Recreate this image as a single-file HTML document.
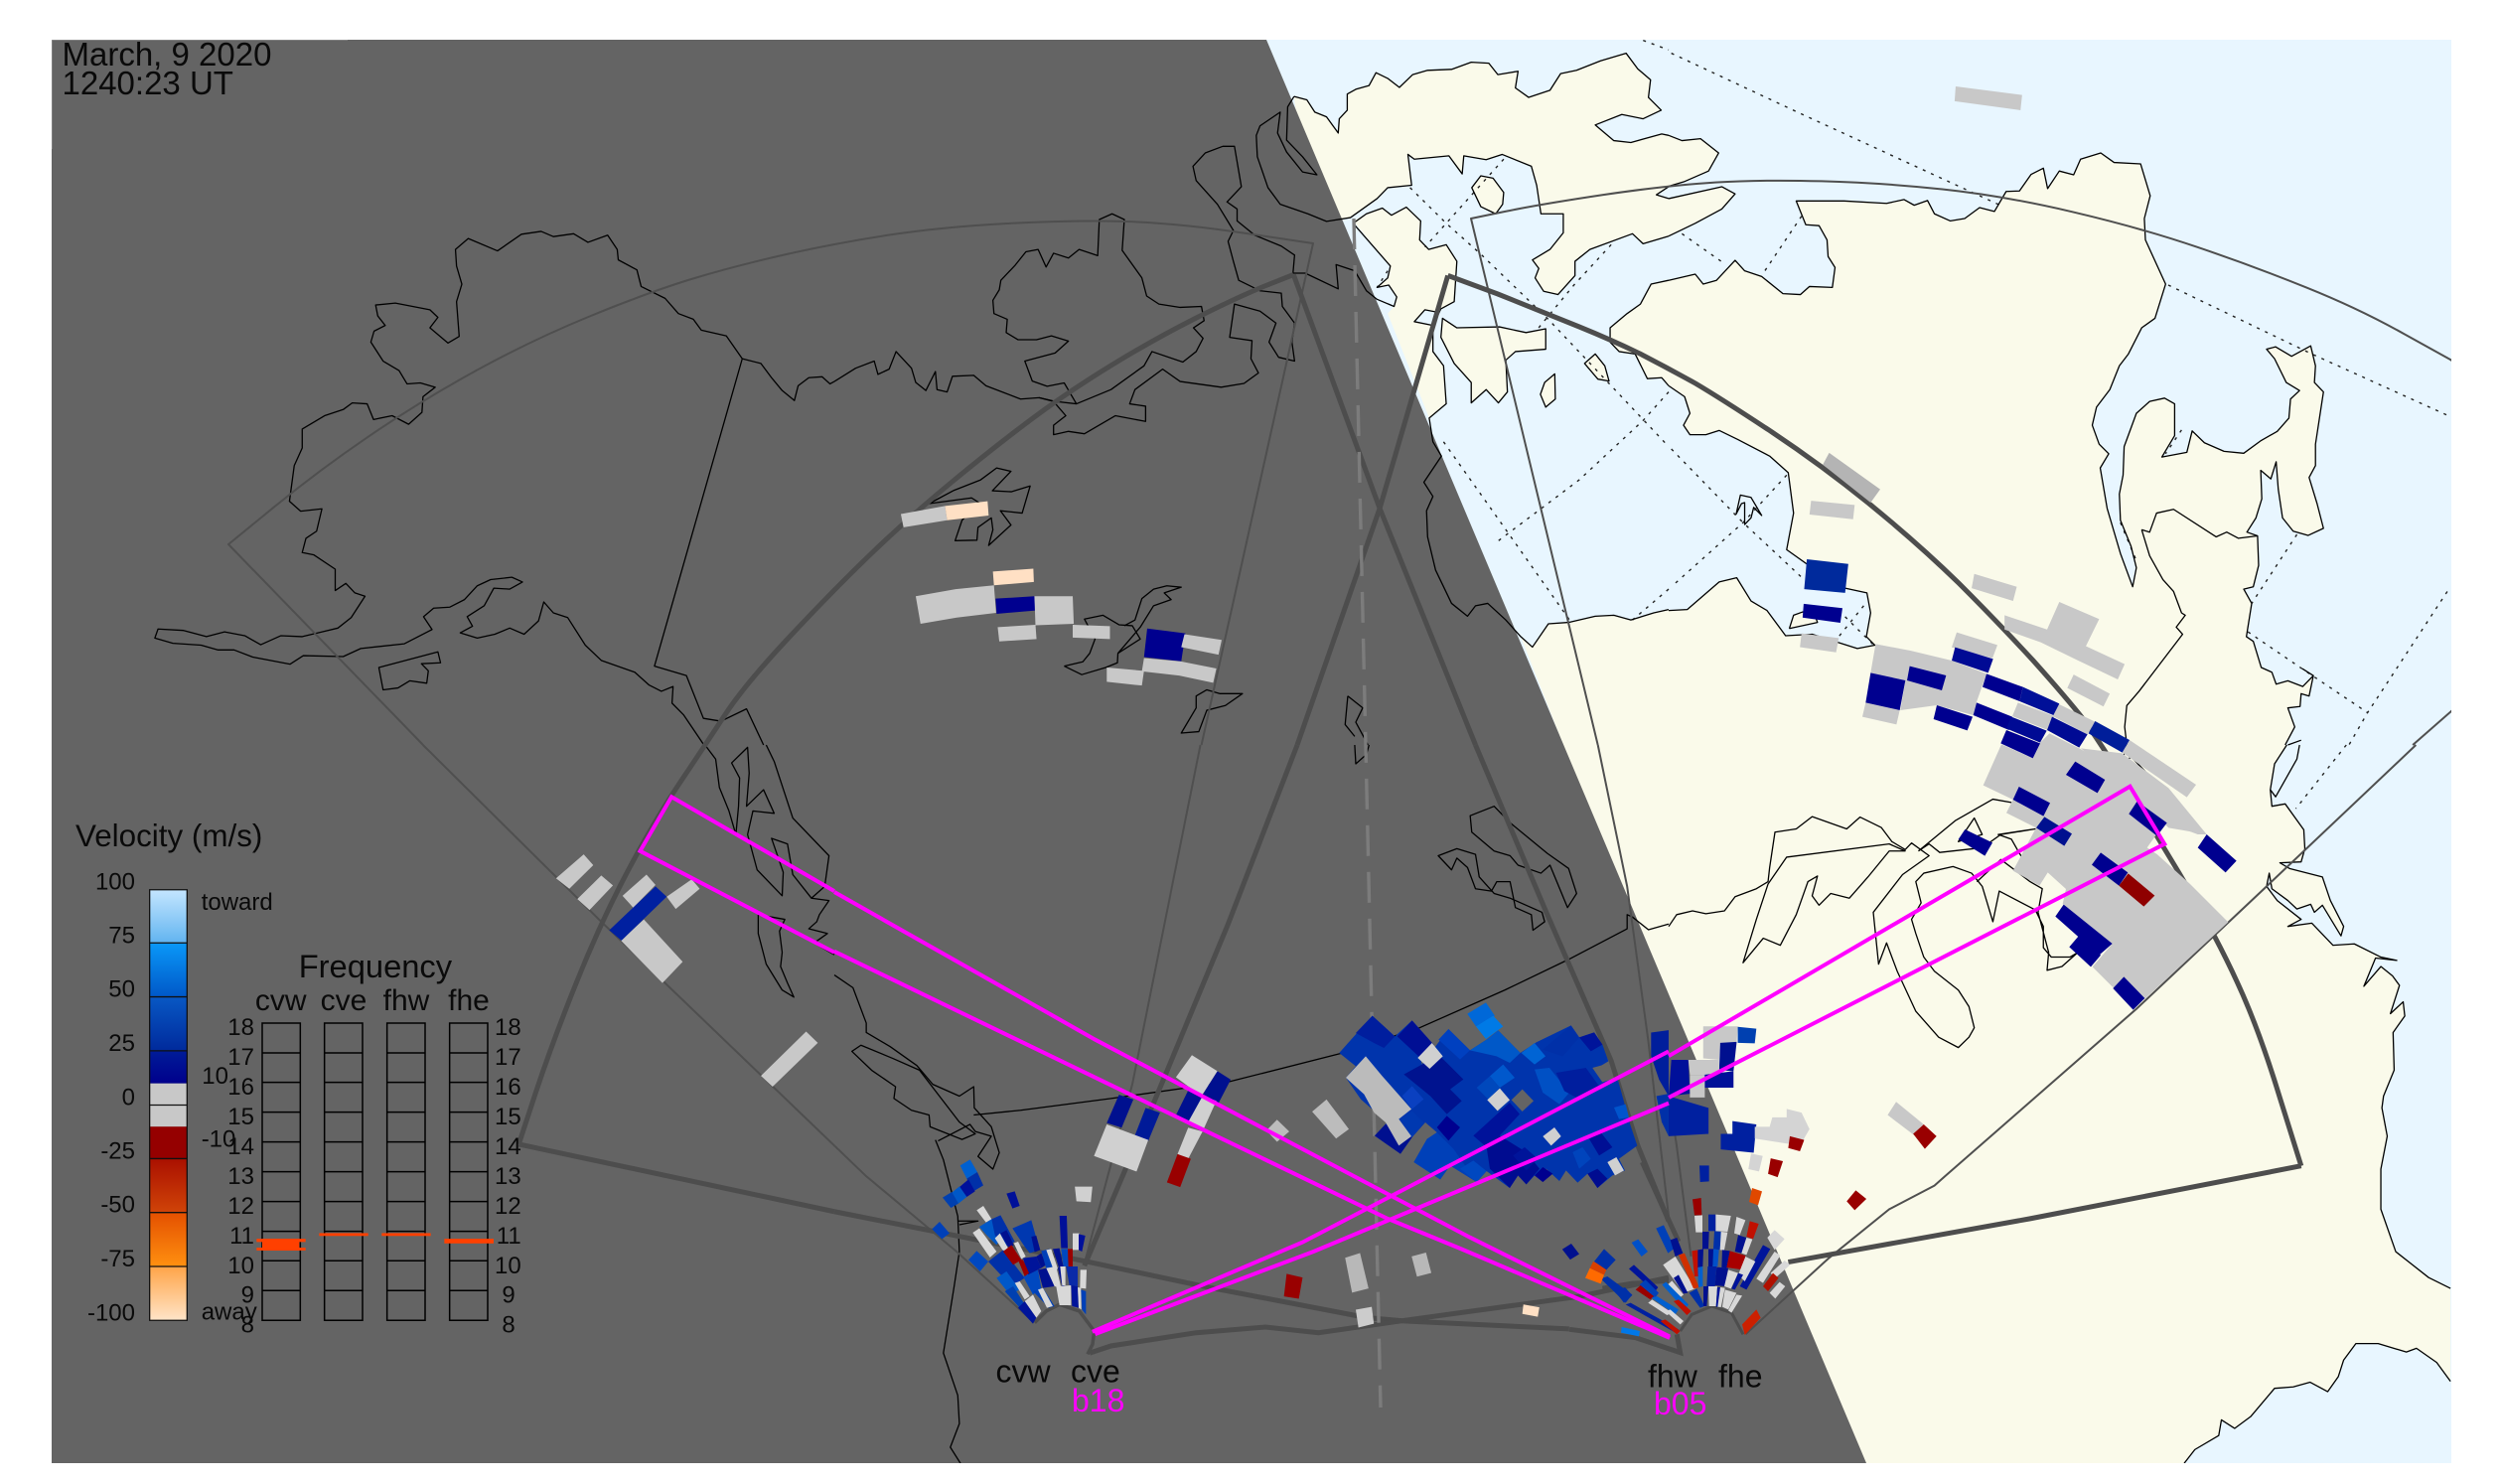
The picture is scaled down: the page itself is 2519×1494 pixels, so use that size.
<!DOCTYPE html>
<html><head><meta charset="utf-8"><title>SuperDARN velocity map</title>
<style>
html,body{margin:0;padding:0;background:#fff}
svg{display:block;font-family:"Liberation Sans",sans-serif}
polyline,polygon,path,line{vector-effect:non-scaling-stroke}
.c polyline,.c polygon{fill:none;stroke:#000;stroke-width:1.3;stroke-linejoin:round}
.d polyline{fill:none;stroke:#222;stroke-width:1.4;stroke-dasharray:3 6}
.t polyline,.t path{fill:none;stroke:#4f4f4f;stroke-width:2;stroke-linejoin:round}
.k polyline,.k path{fill:none;stroke:#4d4d4d;stroke-width:5;stroke-linejoin:miter}
.m polyline{fill:none;stroke:#f0f;stroke-width:4;stroke-linejoin:miter}
.l polygon{fill:#fafaea;stroke:none}
text{fill:#0a0a0a}
</style></head><body>
<svg width="2519" height="1494" viewBox="0 0 2519 1494" xmlns="http://www.w3.org/2000/svg">
<defs><clipPath id="p"><rect x="52" y="40" width="2416" height="1433"/></clipPath>
<linearGradient id="g1" x1="0" y1="0" x2="0" y2="1"><stop offset="0" stop-color="#c4e6ff"/><stop offset="1" stop-color="#62b4f0"/></linearGradient>
<linearGradient id="g2" x1="0" y1="0" x2="0" y2="1"><stop offset="0" stop-color="#0a98f8"/><stop offset="1" stop-color="#0058c8"/></linearGradient>
<linearGradient id="g3" x1="0" y1="0" x2="0" y2="1"><stop offset="0" stop-color="#0858c4"/><stop offset="1" stop-color="#002a9c"/></linearGradient>
<linearGradient id="g4" x1="0" y1="0" x2="0" y2="1"><stop offset="0" stop-color="#001c98"/><stop offset="1" stop-color="#00008c"/></linearGradient>
<linearGradient id="g5" x1="0" y1="0" x2="0" y2="1"><stop offset="0" stop-color="#aa1000"/><stop offset="1" stop-color="#d04408"/></linearGradient>
<linearGradient id="g6" x1="0" y1="0" x2="0" y2="1"><stop offset="0" stop-color="#e45000"/><stop offset="1" stop-color="#ff9010"/></linearGradient>
<linearGradient id="g7" x1="0" y1="0" x2="0" y2="1"><stop offset="0" stop-color="#ffa448"/><stop offset="1" stop-color="#ffe4c8"/></linearGradient>
</defs>
<rect width="2519" height="1494" fill="#fff"/>
<g clip-path="url(#p)">
<rect x="52" y="40" width="2416" height="1433" fill="#e8f6ff"/>
<!-- land -->
<g class="l">
<g transform="translate(840,0) scale(.5357,.4783)">
<polygon points="864,203 888,210 903,236 925,246 947,280 949,250 964,232 964,198 980,188 1005,180 1018,153 1040,165 1062,184 1087,157 1115,148 1160,146 1197,131 1230,133 1247,157 1285,150 1280,185 1305,205 1345,190 1365,155 1395,148 1440,128 1488,112 1510,145 1534,168 1530,205 1554,232 1520,250 1480,241 1430,263 1465,296 1497,300 1555,282 1568,285 1568,393 1545,410 1568,418 1568,497 1520,513 1500,492 1420,525 1392,550 1392,580 1360,620 1333,613 1317,585 1324,565 1312,547 1345,525 1370,490 1370,450 1328,450 1320,390 1310,350 1255,325 1225,336 1183,328 1180,366 1155,328 1090,335 1078,325 1085,390 1040,395 1020,418 970,458 925,466 890,450"/>
<polygon points="975,465 1000,450 1030,438 1047,453 1075,436 1102,465 1100,505 1117,525 1150,515 1170,550 1165,635 1140,650 1133,657 1110,652 1090,677 1125,685 1125,740 1145,770 1150,850 1118,880 1040,660 1052,645 1057,625 1042,600 1020,605 1040,585 1045,560"/>
<polygon points="1143,670 1170,690 1250,688 1300,700 1337,692 1337,735 1280,740 1262,758 1265,825 1248,848 1225,820 1197,848 1197,805 1165,765 1140,710"/>
<polygon points="1198,395 1215,370 1238,375 1258,405 1256,430 1243,450 1215,435"/>
<polygon points="1410,765 1430,745 1448,770 1456,802 1435,798"/>
<polygon points="1354,787 1355,840 1337,857 1327,830 1335,805"/>
<polygon points="1568,590 1535,598 1515,640 1490,660 1458,690 1458,720 1475,740 1505,745 1528,797 1555,795 1568,812"/>
<polygon points="1290,1340 1312,1362 1342,1313 1380,1310 1430,1297 1465,1295 1497,1305 1540,1290 1568,1283 1568,1568 1370,1568"/>
</g>
<g transform="translate(1680,0) scale(.5351,.4783)">
<polygon points="0,285 25,296 60,292 94,322 75,360 30,382 0,392"/>
<polygon points="0,418 100,393 125,408 100,440 50,470 0,497"/>
<polygon points="0,590 50,577 65,598 90,590 125,548 143,570 175,582 215,618 248,620 265,603 308,605 313,563 300,540 298,505 283,475 258,473 240,423 330,423 410,428 443,420 462,432 487,422 500,450 530,465 557,460 585,437 613,445 635,403 660,402 682,367 705,354 713,397 735,360 762,368 775,335 813,322 838,342 888,345 906,412 895,460 897,505 935,598 915,670 890,690 865,745 848,770 830,820 805,857 797,895 810,935 828,955 812,985 825,1070 850,1165 873,1235 880,1195 870,1150 850,1095 848,1040 855,1000 857,940 880,870 905,845 933,838 952,850 952,917 928,962 975,952 985,907 1008,932 1045,950 1082,954 1115,927 1145,908 1167,880 1170,840 1187,822 1162,805 1140,755 1125,735 1142,730 1172,750 1208,728 1217,770 1215,805 1232,825 1217,935 1217,980 1205,1005 1220,1060 1232,1112 1203,1127 1175,1118 1155,1090 1147,1030 1143,972 1133,1008 1114,990 1116,1050 1105,1090 1088,1120 1108,1128 1110,1190 1100,1235 1082,1240 1097,1270 1087,1340 1100,1350 1115,1405 1135,1415 1143,1440 1165,1433 1193,1445 1213,1422 1205,1465 1190,1460 1188,1487 1165,1490 1178,1530 1160,1568 0,1568 0,1285 35,1283 95,1225 128,1216 155,1265 185,1285 220,1338 270,1335 355,1365 388,1358 372,1340 380,1290 373,1248 320,1235 222,1157 235,1080 225,995 190,960 130,925 95,906 70,915 40,915 28,895 40,870 30,835 0,812"/>
<polygon points="227,1323 235,1295 252,1288 275,1295 280,1310"/>
</g>
<g transform="translate(1680,750) scale(.5351,.4745)">
<polygon points="0,0 1163,0 1140,40 1132,95 1135,130 1160,125 1195,180 1197,220 1190,248 1150,250 1168,262 1230,280 1245,330 1270,385 1265,405 1230,340 1215,355 1208,338 1182,348 1165,330 1135,305 1130,272 1125,300 1145,330 1190,370 1165,385 1210,378 1250,425 1290,422 1340,450 1370,457 1330,452 1308,512 1340,470 1362,490 1375,510 1358,570 1382,545 1385,575 1363,610 1365,690 1345,745 1342,770 1352,830 1340,900 1340,985 1368,1075 1430,1130 1471,1153 1471,1350 1445,1310 1407,1280 1388,1288 1335,1270 1293,1270 1270,1305 1260,1340 1240,1372 1207,1352 1175,1362 1140,1365 1095,1425 1065,1450 1040,1432 1035,1465 990,1495 970,1524 0,1524"/>
</g>
<polygon points="1500,750 1680,750 1680,1473 1500,1473"/>
</g>
<!-- graticule -->
<g class="d">
<g transform="translate(840,0) scale(.5357,.4783)">
<polyline points="1082,395 1150,470 1215,535 1340,670 1450,800 1568,940"/>
<polyline points="1258,335 1190,420 1110,520"/>
<polyline points="1460,515 1390,600 1320,695"/>
<polyline points="1040,570 1020,605"/>
<polyline points="1568,825 1520,885 1400,1010 1240,1145"/>
<polyline points="1145,930 1240,1080 1385,1310"/>
<polyline points="1568,1240 1500,1305"/>
<polyline points="1520,85 1568,105"/>
</g>
<g transform="translate(1680,0) scale(.5351,.4783)">
<polyline points="5,112 250,240 620,430"/>
<polyline points="25,492 105,555"/>
<polyline points="250,455 175,580"/>
<polyline points="940,600 1210,745 1471,877"/>
<polyline points="5,945 140,1100 250,1215"/>
<polyline points="320,1285 388,1360"/>
<polyline points="222,1000 140,1100 10,1230"/>
<polyline points="367,1275 320,1340"/>
<polyline points="1182,1125 1097,1270"/>
<polyline points="1090,1330 1195,1410 1315,1500"/>
<polyline points="1465,1245 1315,1500 1280,1568"/>
<polyline points="965,905 935,955"/>
<polyline points="850,1100 880,1180"/>
</g>
<g transform="translate(1680,750) scale(.5351,.4745)"><polyline points="1275,0 1180,135"/></g>
</g>
<!-- night -->
<polygon points="52,40 1275,40 1879,1473 52,1473" fill="#646464"/>
<line x1="52" y1="40" x2="350" y2="40" stroke="#9a9a9a" stroke-width="1"/>
<line x1="52" y1="40" x2="52" y2="150" stroke="#9a9a9a" stroke-width="1"/>
<!-- coast -->
<g class="c">
<g transform="scale(.5357,.4783)">
<polyline points="1395,755 1365,707 1318,695 1303,672 1275,660 1250,628 1205,603 1197,568 1162,547 1160,525 1142,495 1105,510 1078,492 1040,498 1017,487 980,493 935,528 880,502 856,525 858,560 868,598 858,635 863,708 842,722 808,690 823,668 808,652 743,638 706,642 710,665 724,685 703,697 697,720 720,760 750,780 765,808 790,806 818,815 795,835 793,868 768,893 737,875 702,883 690,850 662,848 645,862 610,875 568,903 568,943 553,980 544,1055 565,1076 605,1071 595,1118 575,1133 568,1163 590,1168 630,1198 630,1243 650,1228 667,1248 686,1255 660,1300 635,1322 568,1340 528,1338 490,1357 460,1338 422,1330 388,1340 345,1327 297,1324 291,1343 325,1354 378,1358 410,1368 440,1368 475,1383 545,1398 570,1380 645,1382 678,1365 760,1355 812,1325 796,1298 815,1280 845,1278 873,1262 897,1233 922,1220 962,1215 982,1225 958,1240 928,1238 910,1275 878,1298 888,1318 865,1332 897,1343 930,1335 958,1322 985,1335 1012,1307 1022,1267 1040,1290 1067,1300 1100,1358 1130,1390 1193,1415 1220,1442 1243,1455 1265,1445 1263,1480 1285,1505 1323,1568"/>
<polyline points="1395,755 1230,1402 1290,1422 1322,1512 1355,1518 1403,1492 1435,1568"/>
<polyline points="1395,755 1430,765 1450,795 1470,822 1493,843 1500,812 1520,795 1545,793 1560,808 1568,803"/>
<polygon points="712,1405 823,1372 828,1395 792,1397 805,1412 802,1438 770,1433 748,1448 720,1452"/>
</g>
<g transform="translate(840,0) scale(.5357,.4783)">
<polyline points="0,803 40,775 75,760 82,788 103,777 116,740 145,775 153,805 172,822 190,782 193,820 212,825 222,792 262,790 285,812 350,840 385,837 412,845 435,875 412,895 412,915 440,908 470,913 528,875 585,887 585,855 555,850 565,820 617,777 650,803 727,815 770,807 797,785 783,755 785,717 743,710 752,640 800,655 830,680 817,720 835,752 865,760 860,720 865,680 842,645 840,617 800,612 760,590 750,550 740,508 750,485 720,430 680,380 674,350 697,322 730,308 752,308 765,393 738,425 757,440 757,465 790,495 840,518 865,537 862,575 885,575 947,608 943,557 978,570 1000,612 1020,630 1052,645 1057,625 1042,600 1020,605 1040,585 1045,560 975,470"/>
<polyline points="385,837 415,845 455,850 520,820 582,770 597,740 655,762 680,740 693,712 675,690 695,675 690,645 650,647 610,640 587,623 578,585 541,527 545,462 522,450 498,462 495,538 460,525 440,543 412,533 398,562 383,525 360,530 340,558 313,590 310,610 298,632 300,660 325,672 323,700 345,715 380,715 408,707 440,718 415,743 358,760 372,802 400,813 432,806 455,850"/>
<polygon points="178,1060 225,1032 275,1010 305,985 332,992 297,1033 333,1035 368,1023 353,1080 312,1075 332,1105 290,1148 298,1115 295,1090 270,1110 268,1137 227,1138 240,1095 272,1058 258,1048"/>
<polyline points="432,1402 465,1420 510,1405 532,1395 533,1375 575,1345 560,1317 535,1315 505,1295 470,1303 490,1345 480,1375 467,1393 432,1402"/>
<polyline points="545,1317 565,1305 578,1260 600,1240 625,1233 652,1236 620,1248 633,1262 600,1275 575,1320 533,1375"/>
<polygon points="680,1465 700,1452 725,1460 767,1460 735,1485 700,1495 685,1540 652,1543 680,1490"/>
<polyline points="965,1465 993,1490 980,1520 1003,1568"/>
<polyline points="965,1465 960,1525 978,1550"/>
<polyline points="864,203 888,210 903,236 925,246 947,280 949,250 964,232 964,198 980,188 1005,180 1018,153 1040,165 1062,184 1087,157 1115,148 1160,146 1197,131 1230,133 1247,157 1285,150 1280,185 1305,205 1345,190 1365,155 1395,148 1440,128 1488,112 1510,145 1534,168 1530,205 1554,232 1520,250 1480,241 1430,263 1465,296 1497,300 1555,282 1568,285"/>
<polyline points="864,203 852,225 850,295 880,330 907,368 880,362 850,320 833,280 838,236 800,265 793,285 795,330 815,395 838,430 890,450 925,466 970,458 1020,418 1040,395 1085,390 1078,325 1090,335 1155,328 1180,366 1183,328 1225,336 1255,325 1310,350 1320,390 1328,450 1370,450 1370,490 1345,525 1312,547 1324,565 1317,585 1333,613 1360,620 1392,580 1392,550 1420,525 1500,492 1520,513 1568,497"/>
<polyline points="1568,393 1545,410 1568,418"/>
<polyline points="975,470 1000,450 1030,438 1047,453 1075,436 1102,465 1100,505 1117,525 1150,515 1170,550 1165,635 1140,650 1125,685 1090,677 1110,652 1133,657"/>
<polyline points="1125,685 1125,740 1145,770 1150,850 1118,880 1125,930 1141,960 1108,1015 1125,1045 1113,1075 1115,1130 1130,1200 1160,1270 1190,1297 1205,1275 1228,1270 1262,1305 1290,1340 1312,1362 1342,1313 1380,1310 1430,1297 1465,1295 1497,1305 1540,1290 1568,1283"/>
<polygon points="1143,670 1170,690 1250,688 1300,700 1337,692 1337,735 1280,740 1262,758 1265,825 1248,848 1225,820 1197,848 1197,805 1165,765 1140,710"/>
<polygon points="1198,395 1215,370 1238,375 1258,405 1256,430 1243,450 1215,435"/>
<polygon points="1410,765 1430,745 1448,770 1456,802 1435,798"/>
<polygon points="1354,787 1355,840 1337,857 1327,830 1335,805"/>
<polyline points="1568,590 1535,598 1515,640 1490,660 1458,690 1458,720 1475,740 1505,745 1528,797 1555,795 1568,812"/>
</g>
<g transform="translate(1680,0) scale(.5351,.4783)">
<polyline points="0,285 25,296 60,292 94,322 75,360 30,382 0,392"/>
<polyline points="0,418 100,393 125,408 100,440 50,470 0,497"/>
<polyline points="0,590 50,577 65,598 90,590 125,548 143,570 175,582 215,618 248,620 265,603 308,605 313,563 300,540 298,505 283,475 258,473 240,423 330,423 410,428 443,420 462,432 487,422 500,450 530,465 557,460 585,437 613,445 635,403 660,402 682,367 705,354 713,397 735,360 762,368 775,335 813,322 838,342 888,345 906,412 895,460 897,505 935,598 915,670 890,690 865,745 848,770 830,820 805,857 797,895 810,935 828,955 812,985 825,1070 850,1165 873,1235 880,1195 870,1150 850,1095 848,1040 855,1000 857,940 880,870 905,845 933,838 952,850 952,917 928,962 975,952 985,907 1008,932 1045,950 1082,954 1115,927 1145,908 1167,880 1170,840 1187,822 1162,805 1140,755 1125,735 1142,730 1172,750 1208,728 1217,770 1215,805 1232,825 1217,935 1217,980 1205,1005 1220,1060 1232,1112 1203,1127 1175,1118 1155,1090 1147,1030 1143,972 1133,1008 1114,990 1116,1050 1105,1090 1088,1120 1108,1128 1110,1190 1100,1235 1082,1240 1097,1270 1087,1340 1100,1350 1115,1405 1135,1415 1143,1440 1165,1433 1193,1445 1213,1422 1193,1408 1213,1422 1205,1465 1190,1460 1188,1487 1165,1490 1178,1530 1160,1568"/>
<polyline points="1165,1568 1190,1558"/>
<polyline points="0,1285 35,1283 95,1225 128,1216 155,1265 185,1285 220,1338 270,1335 355,1365 388,1358 372,1340 380,1290 373,1248 320,1235 222,1157 235,1080 225,995 190,960 130,925 95,906 70,915 40,915 28,895 40,870 30,835 0,812"/>
<polyline points="227,1323 235,1295 252,1288 275,1295 280,1310 227,1323"/>
<polygon points="127,1082 135,1042 155,1047 175,1085 160,1068 155,1090 143,1104 143,1058 137,1060"/>
<polyline points="890,1115 905,1120 918,1080 950,1072 1030,1130 1050,1120 1072,1133 1108,1128"/>
<polyline points="890,1115 905,1170 930,1220 950,1245 965,1290 972,1295 955,1320 967,1335 885,1455 862,1485 858,1530 862,1568"/>
</g>
<g transform="translate(0,750) scale(.5357,.4745)">
<polyline points="1325,0 1345,30 1352,90 1370,140 1383,190 1388,130 1390,70 1375,38 1405,5 1408,60 1403,130 1435,95 1455,145 1415,140 1405,190 1423,265 1470,320 1472,270 1450,198 1480,210 1490,275 1525,325 1550,300 1558,235 1490,155 1455,35 1440,0"/>
<polyline points="1425,360 1475,370 1465,395 1470,440 1467,470 1480,505 1492,535 1470,520 1440,465 1425,400 1425,360"/>
<polyline points="1525,325 1558,330 1540,360 1535,375 1520,390 1555,400 1530,420 1568,445"/>
</g>
<g transform="translate(840,750) scale(.5357,.4745)">
<polyline points="0,488 35,515 60,590 60,610 105,640 155,680 185,720 235,745 262,725 263,770 295,810 310,865 298,900 270,873 295,830 265,820 255,805 195,840"/>
<polygon points="33,650 50,637 110,665 160,690 235,800 265,825 240,837 180,810 178,785 145,775 112,750 115,725 70,690"/>
<polyline points="190,838 205,880 232,1000 235,1075 225,1150 205,1290 232,1380 235,1440 218,1490 237,1524"/>
<polyline points="232,1010 270,1010 235,1018"/>
<polyline points="262,785 350,775 520,750 740,715 950,655 1100,600 1260,520 1380,455 1490,390 1490,360 1500,365 1530,392 1568,380"/>
<polyline points="978,0 980,40 1000,20 1005,0"/>
<polygon points="1195,150 1240,130 1270,165 1340,230 1380,262 1395,315 1378,345 1345,255 1328,272 1285,255 1270,235 1240,225 1198,185"/>
<polygon points="1135,235 1170,220 1205,232 1212,280 1240,315 1270,325 1330,355 1335,375 1313,393 1310,360 1280,345 1270,290 1245,290 1235,310 1205,305 1190,260 1170,240 1160,265"/>
</g>
<g transform="translate(1680,750) scale(.5351,.4745)">
<polyline points="0,385 15,360 45,352 70,358 105,352 125,322 165,305 187,290 190,260 200,185 240,178 270,152 335,178 360,153 400,175 420,205 445,222 457,208 490,235 440,275 385,355 395,465 410,420 430,480 465,565 508,620 545,642 565,620 575,600 565,555 545,520 500,480 480,450 465,400 457,370 475,335 465,290 480,272 535,258 570,272 590,300 610,375 622,310 690,350 705,385 705,430 720,450 755,450 770,440 740,470 712,478 715,440 695,355 703,305 680,290 625,243 580,290"/>
<polygon points="222,238 415,210 445,225 415,225 375,280 340,325 305,315 283,340 270,320 280,278 262,290 240,360 210,425 178,410 140,462 165,370 187,295"/>
<polyline points="470,225 490,210 510,228 590,218 625,190 690,178 620,190 645,200 660,230 695,290"/>
<polyline points="470,225 540,160 610,115 645,122"/>
<polygon points="545,205 575,155 590,190"/>
<polyline points="862,0 850,45 870,25 900,60 890,100"/>
<polyline points="1163,0 1140,40 1132,95 1135,130 1160,125 1195,180 1197,220 1190,248 1150,250 1168,262 1230,280 1245,330 1270,385 1265,405 1230,340 1215,355 1208,338 1182,348 1165,330 1135,305 1130,272 1125,300 1145,330 1190,370 1165,385 1210,378 1250,425 1290,422 1340,450 1370,457 1330,452 1308,512 1340,470 1362,490 1375,510 1358,570 1382,545 1385,575 1363,610 1365,690 1345,745 1342,770 1352,830 1340,900 1340,985 1368,1075 1430,1130 1471,1153"/>
<polyline points="1187,0 1182,30 1142,110 1132,95"/>
<polyline points="1471,1350 1445,1310 1407,1280 1388,1288 1335,1270 1293,1270 1270,1305 1260,1340 1240,1372 1207,1352 1175,1362 1140,1365 1095,1425 1065,1450 1040,1432 1035,1465 990,1495 970,1524"/>
</g>
</g>
<!-- thin field of view lines -->
<g class="t">
<path d="M426,750 L230,548 L275.5,510.8 Q321,473.5 372,438.8 Q423,404 479.5,373 Q536,342 594.8,318 Q653.5,294 696,281 Q739,268 789.5,256.5 Q840,245 893.5,236.8 Q947,228.6 1014,225 Q1081,221.5 1134.5,223 Q1188,224.8 1255,235 L1322,245 L1209.6,750"/>
<path d="M1608.7,750 L1481,220 L1515.5,212.9 Q1550,205.7 1615,196 Q1680,186.5 1727,183.6 Q1773.6,180.8 1834,182.4 Q1894,184 1955.5,190.5 Q2017,197 2086.5,213.3 Q2156,229.6 2212,248.7 Q2268.6,267.8 2322,289.4 Q2375.6,310.9 2421,336.5 L2467,362 L2515,395"/>
<g transform="translate(1680,0) scale(.5351,.4783)"><polyline points="1500,1470 1400,1568"/></g>
<g transform="translate(0,750) scale(.5357,.4745)"><polyline points="795,0 1130,375 1568,850"/></g>
<g transform="translate(840,750) scale(.5357,.4745)"><polyline points="0,850 60,915 230,1075 375,1225"/><polyline points="688,0 560,720 470,1100"/><polyline points="1435,0 1490,300 1530,630 1568,1000"/></g>
<g transform="translate(1680,750) scale(.5351,.4745)"><polyline points="0,740 15,850 42,1085"/><polyline points="1406,0 1125,300 880,560 520,915 500,935 415,985 300,1090 145,1250"/></g>
</g>
<!-- thick field of view lines -->
<g class="k">
<path d="M522.3,1151.9 L539.5,1099.5 Q557,1047 581,987.5 Q605,928 632,877 Q659,826 684.5,788 Q710,750 730,719.5 Q750,689 795,641 Q840,593 877.5,557 Q915,521 958,485.5 Q1001,450 1038.5,422 Q1076,394 1118.5,368 Q1161,342 1201.5,321.5 Q1242,301 1272,288.5 L1302.3,276.5"/>
<path d="M1457.7,277.4 L1508,296 Q1558,316 1590,329 Q1622,342 1651,356 Q1680,371 1707,386 Q1734,402 1784,435 Q1835,469 1883,508 Q1932,548 1972,587 Q2012,627 2047,665 Q2081,703 2099,726 Q2116,750 2136,783 Q2156,816 2194,879 Q2231,942 2252,988 Q2274,1035 2295,1104 L2316.8,1173.7"/>
<g transform="translate(0,750) scale(.5357,.4745)"><polyline points="975,847 1568,990"/></g>
<g transform="translate(840,0) scale(.5357,.4783)"><polyline points="863,578 1025,1070 1205,1568"/><polyline points="870,1568 1025,1070 1153,580"/></g>
<g transform="translate(1680,750) scale(.5351,.4745)"><polyline points="1190,893 680,1005 225,1097"/></g>
<g transform="translate(840,750) scale(.5357,.4745)"><polyline points="1205,0 1340,360 1460,670 1510,850 1568,1010"/><polyline points="870,0 740,380 600,760 470,1105"/><polyline points="0,990 470,1095 700,1150 1000,1215 1071,1222 1381,1239"/><polyline points="480,1290 520,1275 680,1247 810,1235 910,1247 1090,1218 1400,1170 1568,1130"/></g>
<g transform="translate(1580,1170) scale(.3333)"><polyline points="0,505 200,530 335,575 325,520"/><polyline points="100,380 190,365 300,360" style="stroke-width:4"/><polyline points="220,0 330,240"/></g>
<g transform="translate(930,1140) scale(.3333)"><polyline points="335,575 370,540 410,520 470,540 515,600 510,640 495,670" style="stroke-width:3.5"/></g>
<g transform="translate(1580,1170) scale(.3333)"><polyline points="335,510 370,460 430,435 490,455 525,520" style="stroke-width:3"/></g>
</g>
<!-- dashed meridian -->
<polyline points="1363,220 1390,1417" fill="none" stroke="#7c7c7c" stroke-width="3.4" stroke-dasharray="31 16"/>
<!-- cells: upper -->
<g transform="translate(840,0) scale(.5357,.4783)">
<polygon fill="#c8c8c8" points="125,1082 208,1065 212,1095 130,1110"/>
<polygon fill="#ffe0c4" points="208,1065 288,1055 290,1085 212,1095"/>
<polygon fill="#ffe0c4" points="298,1203 374,1197 375,1225 300,1232"/>
<polygon fill="#c8c8c8" points="153,1255 228,1240 300,1232 304,1290 230,1300 162,1313"/>
<polygon fill="#00008f" points="303,1260 376,1255 378,1285 305,1292"/>
<polygon fill="#c8c8c8" points="376,1255 448,1255 450,1313 378,1316"/>
<polygon fill="#c8c8c8" points="307,1320 378,1315 380,1345 310,1350"/>
<polygon fill="#c8c8c8" points="448,1315 518,1318 518,1345 448,1342"/>
<polygon fill="#00008f" points="588,1323 660,1333 652,1392 582,1383"/>
<polygon fill="#c8c8c8" points="658,1335 728,1347 722,1378 652,1362"/>
<polygon fill="#c8c8c8" points="582,1385 650,1392 718,1407 712,1437 648,1422 578,1413"/>
<polygon fill="#c8c8c8" points="512,1405 582,1412 578,1443 512,1435"/>
</g>
<g transform="translate(1680,0) scale(.5351,.4783)">
<polygon fill="#c8c8c8" points="540,182 665,200 662,232 538,213"/>
<polygon fill="#b4b4b4" points="302,953 398,1030 380,1058 290,978"/>
<polygon fill="#c8c8c8" points="268,1054 350,1063 347,1093 265,1083"/>
<polygon fill="#002a9c" points="260,1177 338,1187 332,1248 255,1240"/>
<polygon fill="#00008f" points="254,1271 327,1280 323,1311 252,1300"/>
<polygon fill="#c8c8c8" points="250,1333 320,1343 315,1373 247,1362"/>
<polygon fill="#c8c8c8" points="575,1208 655,1235 648,1265 570,1238"/>
<polygon fill="#c8c8c8" points="632,1295 712,1325 735,1267 810,1303 785,1360 858,1398 845,1430 770,1390 700,1352 632,1325"/>
<polygon fill="#c8c8c8" points="762,1420 830,1460 818,1487 750,1448"/>
</g>
<g transform="translate(1850,620) scale(.33333)">
<polygon fill="#c8c8c8" points="115,85 220,105 345,135 450,175 420,260 410,300 300,270 190,285 205,195 100,172"/>
<polygon fill="#c8c8c8" points="85,262 75,305 178,328 188,285"/>
<polygon fill="#c8c8c8" points="360,50 483,88 468,128 345,95"/>
<polygon fill="#c8c8c8" points="495,388 440,512 530,555 510,595 600,640 530,770 610,815 635,775 690,825 680,870 830,990 770,1060 830,1120 925,1160 1180,925 1065,810 965,720 935,700 960,665 995,625 1088,660 1115,660 1000,560 860,470 730,400 640,355 610,385 590,430"/>
<polygon fill="#c8c8c8" points="545,262 655,303 635,345 528,303"/>
<polygon fill="#c8c8c8" points="665,265 778,320 755,358 650,303"/>
<polygon fill="#c8c8c8" points="882,375 1083,510 1055,548 860,413"/>
<polygon fill="#c8c8c8" points="735,400 860,415 1000,520 1115,660 1000,640 880,520"/>
<polygon fill="#00008f" points="100,172 205,195 188,285 85,262"/>
<polygon fill="#00008f" points="218,152 328,180 315,225 210,195"/>
<polygon fill="#000a94" points="355,95 470,130 455,172 345,135"/>
<polygon fill="#00008f" points="300,270 408,305 392,346 290,312"/>
<polygon fill="#00008f" points="450,175 560,215 550,258 438,215"/>
<polygon fill="#001098" points="560,215 670,265 652,300 550,258"/>
<polygon fill="#00008f" points="420,262 528,305 518,345 410,300"/>
<polygon fill="#000a94" points="525,305 632,347 612,383 510,340"/>
<polygon fill="#00008f" points="510,345 612,385 590,430 493,385"/>
<polygon fill="#000a94" points="648,305 755,358 730,398 633,345"/>
<polygon fill="#001e9a" points="778,318 882,375 860,413 758,355"/>
<polygon fill="#00008f" points="718,440 808,495 785,535 690,480"/>
<polygon fill="#00008f" points="548,516 642,565 622,605 530,555"/>
<polygon fill="#00108f" points="625,607 708,658 685,695 600,640"/>
<polygon fill="#00008f" points="385,645 468,685 445,725 365,675"/>
<polygon fill="#00008f" points="795,715 877,775 850,815 768,752"/>
<polygon fill="#8f0000" points="878,778 958,845 925,878 850,815"/>
<polygon fill="#00008f" points="905,560 995,625 965,665 880,598"/>
<polygon fill="#00008f" points="1115,660 1205,740 1172,775 1088,700"/>
<polygon fill="#00008f" points="683,872 830,990 790,1025 658,908"/>
<polygon fill="#00008f" points="730,965 795,1025 765,1060 700,1000"/>
<polygon fill="#00008f" points="865,1090 928,1155 893,1190 832,1125"/>
</g>
<!-- west cells -->
<g transform="translate(0,750) scale(.5357,.4745)">
<polygon fill="#c8c8c8" points="1097,232 1115,255 1070,305 1045,283"/>
<polygon fill="#c8c8c8" points="1130,277 1152,298 1108,350 1085,327"/>
<polygon fill="#c8c8c8" points="1215,275 1232,297 1190,345 1170,320"/>
<polygon fill="#c8c8c8" points="1300,285 1315,305 1270,348 1253,322"/>
<polygon fill="#c8c8c8" points="1210,370 1283,460 1245,505 1167,415"/>
<polygon fill="#0020a0" points="1232,300 1253,322 1168,415 1145,393"/>
<polygon fill="#c8c8c8" points="1515,608 1537,632 1452,725 1430,702"/>
</g>
<!-- center cells -->
<g transform="translate(840,750) scale(.5357,.4745)">
<polygon fill="#d0d0d0" points="672,658 720,692 690,745 642,705"/>
<polygon fill="#00108f" points="720,692 745,710 722,760 692,742"/>
<polygon fill="#00108f" points="665,733 692,745 667,805 640,790"/>
<polygon fill="#d0d0d0" points="692,745 718,755 692,820 665,800"/>
<polygon fill="#d0d0d0" points="665,812 692,820 665,878 645,868"/>
<polygon fill="#990000" points="645,868 670,878 650,938 625,928"/>
<polygon fill="#00108f" points="535,742 562,752 540,812 512,802"/>
<polygon fill="#001a98" points="585,770 612,780 590,840 565,828"/>
<polygon fill="#d0d0d0" points="512,805 590,838 568,905 488,872"/>
<polygon fill="#bcbcbc" points="832,795 855,820 832,842 812,818"/>
<polygon fill="#bcbcbc" points="925,752 967,815 943,835 898,778"/>
<polygon fill="#b8b8b8" points="960,1088 988,1078 1004,1153 973,1162"/>
<polygon fill="#b8b8b8" points="1085,1085 1112,1077 1122,1120 1095,1128"/>
<polygon fill="#990000" points="850,1122 880,1130 873,1175 845,1170"/>
<polygon fill="#cccccc" points="980,1198 1010,1192 1014,1228 985,1236"/>
<polygon fill="#ffe0c4" points="1295,1187 1325,1193 1322,1213 1293,1207"/>
<polygon fill="#d0d0d0" points="452,937 485,937 482,970 455,968"/>
<polygon fill="#00108f" points="1368,1070 1385,1058 1400,1080 1383,1092"/>
<polygon fill="#001e9c" points="1535,610 1568,605 1568,745 1550,710 1535,660"/>
<polygon fill="#0030a8" points="1545,745 1568,740 1568,830 1555,800"/>
</g>
<!-- main swath -->
<g transform="translate(1340,1000) scale(.33333)">
<polygon fill="#0034ac" points="25,180 125,68 193,130 245,82 310,155 270,195 275,215 355,108 420,172 470,140 505,112 572,180 620,148 725,97 750,133 795,118 820,155 838,205 805,225 790,225 820,268 865,255 905,400 925,460 870,500 888,535 850,550 805,588 775,545 745,572 710,535 690,567 650,530 640,570 615,550 590,577 565,550 540,588 470,537 440,570 360,520 330,562 252,510 320,420 285,390 245,435 210,485 132,430 170,390 90,320 45,255 75,220"/>
<polygon fill="#001e9e" points="125,68 193,130 160,165 130,150 75,120"/>
<polygon fill="#000f94" points="245,82 310,155 270,195 200,130"/>
<polygon fill="#00138f" points="275,215 330,190 400,260 360,290 395,325 350,365 300,310 220,245"/>
<polygon fill="#00008f" points="350,370 390,405 355,445 320,405"/>
<polygon fill="#0a40c0" points="245,280 280,320 245,350 215,310"/>
<polygon fill="#0040c0" points="355,108 420,172 390,200 325,140"/>
<polygon fill="#0068d8" points="412,62 468,28 495,68 438,100"/>
<polygon fill="#007ae6" points="438,100 490,68 520,100 468,138"/>
<polygon fill="#0058c8" points="470,140 505,112 572,180 540,210 500,190 420,172"/>
<polygon fill="#0064d4" points="575,180 615,150 648,190 615,215"/>
<polygon fill="#0058cc" points="480,250 520,215 555,255 510,285"/>
<polygon fill="#0048bc" points="440,285 480,250 510,285 475,320"/>
<polygon fill="#0050c4" points="615,230 660,225 720,300 690,335 640,300"/>
<polygon fill="#0030a8" points="640,170 725,97 750,133 700,190"/>
<polygon fill="#00149a" points="750,133 795,118 820,155 785,175"/>
<polygon fill="#001e9e" points="680,240 770,225 810,280 750,320 705,295"/>
<polygon fill="#00129a" points="430,430 540,330 570,365 500,440 470,465"/>
<polygon fill="#000c90" points="470,465 510,430 590,480 630,530 590,577 565,550 540,588 480,530"/>
<polygon fill="#00008f" points="640,525 670,545 640,570 615,550"/>
<polygon fill="#00149a" points="585,465 625,500 590,535 550,490"/>
<polygon fill="#0040b8" points="250,510 290,440 320,420 370,470 440,570 360,520 330,562"/>
<polygon fill="#0048c0" points="390,530 430,505 470,537 440,570"/>
<polygon fill="#000f94" points="780,440 815,420 850,465 810,490"/>
<polygon fill="#0044bc" points="730,480 760,465 785,500 750,530"/>
<polygon fill="#0054cc" points="855,345 890,335 900,375 870,380"/>
<polygon fill="#000c90" points="805,530 835,560 805,588 775,545"/>
<polygon fill="#00108f" points="132,430 165,395 245,435 210,485"/>
<polygon fill="#0038b0" points="210,380 245,355 280,390 245,435"/>
<polygon fill="#bbbbbb" points="45,255 105,190 155,250 243,350 205,380 243,432 205,460 165,390 130,360 100,305"/>
<polygon fill="#d0d0d0" points="262,195 305,150 338,190 298,228"/>
<polygon fill="#d0d0d0" points="472,322 510,287 540,322 503,355"/>
<polygon fill="#d0d0d0" points="640,432 675,405 695,432 665,460"/>
<polygon fill="#d0d0d0" points="835,510 862,495 885,535 858,550"/>
<polygon fill="#646464" points="545,322 578,290 612,325 578,357"/>
<polygon fill="#646464" points="790,225 838,212 848,250 820,268"/>
</g>
<!-- east cells -->
<g transform="translate(1680,750) scale(.5351,.4745)">
<polygon fill="#00109a" points="5,668 37,668 40,740 0,745"/>
<polygon fill="#c8c8c8" points="65,597 130,597 128,632 97,634 95,668 65,665"/>
<polygon fill="#0040b0" points="130,598 165,602 162,633 130,632"/>
<polygon fill="#00108f" points="97,632 128,630 122,692 95,690"/>
<polygon fill="#c8c8c8" points="37,668 95,668 95,700 40,700"/>
<polygon fill="#001098" points="65,700 122,692 122,727 65,727"/>
<polygon fill="#c8c8c8" points="40,700 68,700 68,748 40,748"/>
<polygon fill="#0020a0" points="0,745 75,770 75,825 0,830"/>
<polygon fill="#0020a0" points="120,798 165,805 160,865 98,858 98,825 120,825"/>
<polygon fill="#d4d4d4" points="162,810 190,810 195,790 222,790 222,772 250,780 265,815 247,850 162,835"/>
<polygon fill="#990000" points="228,830 255,838 247,862 225,855"/>
<polygon fill="#d4d4d4" points="155,867 177,872 170,905 150,900"/>
<polygon fill="#990000" points="192,877 215,883 205,917 187,910"/>
<polygon fill="#c8c8c8" points="428,757 480,805 462,828 412,785"/>
<polygon fill="#990000" points="480,805 504,830 482,857 460,825"/>
<polygon fill="#990000" points="352,945 372,963 350,987 335,968"/>
</g>
<!-- cve fan -->
<g transform="translate(930,1140) scale(.33333)">
<polygon fill="#0060d0" points="110,100 140,82 162,120 130,140"/>
<polygon fill="#0030a8" points="130,140 162,120 180,160 150,178"/>
<polygon fill="#00109a" points="108,165 135,142 155,178 130,195"/>
<polygon fill="#0058c8" points="85,182 108,163 130,195 105,215"/>
<polygon fill="#0040b0" points="57,197 85,180 105,215 82,228"/>
<polygon fill="#001098" points="250,185 275,178 290,222 268,230"/>
<polygon fill="#d8d8d8" points="160,235 180,222 205,262 188,272"/>
<polygon fill="#0040b8" points="25,292 48,270 78,305 55,322"/>
<polygon fill="#0048c0" points="135,385 160,358 195,390 170,420"/>
<polygon fill="#0058c8" points="168,285 205,262 245,300 220,340 190,310"/>
<polygon fill="#0030a8" points="205,262 232,250 275,330 240,350 215,310"/>
<polygon fill="#d8d8d8" points="148,303 168,290 220,360 200,378"/>
<polygon fill="#d8d8d8" points="215,320 230,305 255,350 240,358"/>
<polygon fill="#00108f" points="232,305 250,295 272,340 258,350"/>
<polygon fill="#0038b0" points="268,290 310,272 325,265 350,355 320,365 305,345"/>
<polygon fill="#0030a8" points="195,390 240,355 305,440 265,465"/>
<polygon fill="#0058c8" points="220,440 250,420 290,475 260,490"/>
<polygon fill="#0040b0" points="245,480 270,465 325,550 330,578 290,530"/>
<polygon fill="#0048c0" points="300,435 345,415 355,470 330,490"/>
<polygon fill="#00149a" points="300,380 340,375 355,410 315,430"/>
<polygon fill="#d8d8d8" points="272,335 285,330 308,375 295,382"/>
<polygon fill="#00108f" points="325,315 340,312 352,355 335,362"/>
<polygon fill="#990000" points="240,360 265,340 295,385 270,400"/>
<polygon fill="#990000" points="285,385 300,385 318,425 305,435"/>
<polygon fill="#00108f" points="340,375 355,365 370,400 355,410"/>
<polygon fill="#0040b8" points="355,358 380,352 400,405 370,412"/>
<polygon fill="#d8d8d8" points="370,355 385,352 405,412 392,415"/>
<polygon fill="#00108f" points="390,352 410,350 422,405 408,408"/>
<polygon fill="#0048c0" points="415,352 435,352 437,405 422,405"/>
<polygon fill="#990000" points="435,352 450,352 450,405 437,405"/>
<polygon fill="#001098" points="410,252 432,252 435,350 415,350"/>
<polygon fill="#d8d8d8" points="450,305 470,305 468,355 450,355"/>
<polygon fill="#00109a" points="468,307 488,312 478,360 468,355"/>
<polygon fill="#d8d8d8" points="473,415 492,415 490,472 472,470"/>
<polygon fill="#00108f" points="345,415 372,410 395,465 360,470"/>
<polygon fill="#d8d8d8" points="370,410 400,405 415,470 395,465"/>
<polygon fill="#00108f" points="405,410 412,405 425,465 418,465"/>
<polygon fill="#d8d8d8" points="412,405 428,405 428,462 418,462"/>
<polygon fill="#0a2aa8" points="430,405 465,405 465,465 440,462"/>
<polygon fill="#0040b8" points="330,480 360,470 395,525 378,530"/>
<polygon fill="#d8d8d8" points="345,475 360,470 390,525 372,530"/>
<polygon fill="#d8d8d8" points="400,465 445,462 445,522 410,522"/>
<polygon fill="#00149a" points="445,462 465,465 468,530 448,525"/>
<polygon fill="#d8d8d8" points="465,468 475,470 476,535 468,530"/>
<polygon fill="#0040b8" points="475,475 490,480 490,550 478,535"/>
<polygon fill="#d8d8d8" points="305,510 330,490 355,540 340,560"/>
<polygon fill="#d8d8d8" points="275,455 290,450 320,495 305,505"/>
<polygon fill="#00149a" points="285,530 305,510 340,560 330,578"/>
</g>
<!-- fhw/fhe fan -->
<g transform="translate(1580,1170) scale(.33333)">
<polygon fill="#0020a0" points="393,10 422,10 422,58 395,60"/>
<polygon fill="#990000" points="372,112 398,108 400,160 378,160"/>
<polygon fill="#d8d8d8" points="378,162 402,160 402,212 382,212"/>
<polygon fill="#e04800" points="552,78 582,88 570,130 543,120"/>
<polygon fill="#0020a0" points="420,158 442,158 442,208 420,208"/>
<polygon fill="#d8d8d8" points="442,158 488,162 478,210 442,208"/>
<polygon fill="#d8d8d8" points="505,165 532,175 515,220 498,215"/>
<polygon fill="#c01000" points="545,178 572,186 555,232 535,225"/>
<polygon fill="#d8d8d8" points="598,228 620,205 650,232 620,265"/>
<polygon fill="#00108f" points="402,210 422,210 420,262 402,262"/>
<polygon fill="#0030a8" points="438,208 460,210 455,265 435,262"/>
<polygon fill="#d8d8d8" points="458,210 478,212 468,265 455,265"/>
<polygon fill="#00108f" points="510,220 535,228 520,275 500,270"/>
<polygon fill="#d8d8d8" points="535,228 553,233 535,280 520,275"/>
<polygon fill="#00149a" points="585,250 607,262 535,385 515,375"/>
<polygon fill="#d8d8d8" points="620,270 637,282 585,365 565,352"/>
<polygon fill="#d8d8d8" points="650,297 667,310 622,350 608,335"/>
<polygon fill="#b01000" points="615,335 632,350 600,390 585,375"/>
<polygon fill="#d8d8d8" points="635,362 652,375 622,412 605,395"/>
<polygon fill="#cc2000" points="565,445 578,470 530,522 522,490"/>
<polygon fill="#0040b8" points="262,200 285,190 318,260 298,275"/>
<polygon fill="#00108f" points="305,235 325,228 343,275 320,285"/>
<polygon fill="#0050c8" points="188,243 208,233 237,270 218,285"/>
<polygon fill="#d8d8d8" points="283,310 320,285 380,382 345,395"/>
<polygon fill="#d03000" points="330,280 348,275 392,378 375,382"/>
<polygon fill="#00108f" points="315,350 330,340 358,395 345,397"/>
<polygon fill="#c01000" points="370,268 388,265 392,345 378,345"/>
<polygon fill="#00108f" points="388,265 405,262 403,315 388,318"/>
<polygon fill="#0060d0" points="388,318 403,315 403,375 390,378"/>
<polygon fill="#00108f" points="420,262 437,262 433,315 420,315"/>
<polygon fill="#0050c8" points="435,262 452,265 448,315 433,315"/>
<polygon fill="#00108f" points="462,265 485,268 475,320 460,318"/>
<polygon fill="#a80000" points="485,268 532,282 525,325 475,318"/>
<polygon fill="#d8d8d8" points="532,285 562,300 530,360 510,340"/>
<polygon fill="#0020a0" points="418,315 445,315 440,375 415,375"/>
<polygon fill="#00108f" points="445,317 480,320 470,375 440,372"/>
<polygon fill="#d8d8d8" points="480,325 510,335 488,382 468,375"/>
<polygon fill="#00149a" points="510,335 525,340 500,385 490,382"/>
<polygon fill="#00149a" points="180,322 195,310 268,378 258,392"/>
<polygon fill="#0040b8" points="212,370 230,355 270,395 255,415"/>
<polygon fill="#990000" points="200,385 215,372 255,405 245,415"/>
<polygon fill="#0030a8" points="95,352 115,345 190,400 170,425"/>
<polygon fill="#0030a8" points="138,390 168,378 190,402 165,425"/>
<polygon fill="#d8d8d8" points="238,425 250,415 310,455 295,462"/>
<polygon fill="#0060d0" points="248,410 265,405 330,445 320,460"/>
<polygon fill="#d8d8d8" points="292,375 310,358 345,400 330,412"/>
<polygon fill="#0060d0" points="280,370 292,362 360,430 348,445"/>
<polygon fill="#c01000" points="315,420 330,415 368,450 355,462"/>
<polygon fill="#d8d8d8" points="290,450 305,445 345,480 335,490"/>
<polygon fill="#0020a0" points="170,430 185,425 330,505 320,515"/>
<polygon fill="#c01000" points="275,480 290,475 335,510 325,520"/>
<polygon fill="#0030a8" points="362,395 385,382 408,435 395,440"/>
<polygon fill="#00108f" points="405,375 420,375 415,435 405,435"/>
<polygon fill="#d8d8d8" points="420,375 447,375 443,435 422,435"/>
<polygon fill="#00149a" points="447,378 456,378 448,437 443,437"/>
<polygon fill="#d8d8d8" points="456,378 470,380 458,438 448,437"/>
<polygon fill="#d8d8d8" points="470,385 505,395 480,445 462,437"/>
<polygon fill="#d8d8d8" points="505,400 522,403 490,455 480,448"/>
<polygon fill="#ff6a00" points="48,350 62,320 105,340 95,367"/>
<polygon fill="#d84000" points="62,320 72,300 115,318 105,340"/>
<polygon fill="#0030a8" points="75,300 105,262 140,295 112,325"/>
<polygon fill="#0078e8" points="158,498 213,510 210,526 156,515"/>
</g>
<!-- magenta beams -->
<g class="m">
<g transform="translate(0,750) scale(.5357,.4745)"><polyline points="1568,310 1262,110 1203,225 1568,440"/></g>
<g transform="translate(840,750) scale(.5357,.4745)"><polyline points="0,312 490,625 1195,1045 1570,1255"/><polyline points="0,438 700,820 1040,1005 1180,1070 1570,1258"/></g>
<g transform="translate(840,750) scale(.5357,.4745)"><polyline points="485,1245 880,1055 1568,650"/><polyline points="490,1250 900,1075 1568,760"/></g>
<g transform="translate(1680,750) scale(.5351,.4745)"><polyline points="0,660 868,88 933,210 0,748"/></g>
</g>
</g>
<!-- header -->
<text x="62.5" y="66" font-size="33">March, 9 2020</text>
<text x="62.5" y="95" font-size="33">1240:23 UT</text>
<!-- legend graphics -->
<g transform="translate(60,800) scale(.33333,.35714)">
<rect x="272" y="268" width="113" height="150" fill="url(#g1)"/>
<rect x="272" y="418" width="113" height="152" fill="url(#g2)"/>
<rect x="272" y="570" width="113" height="152" fill="url(#g3)"/>
<rect x="272" y="722" width="113" height="92" fill="url(#g4)"/>
<rect x="272" y="814" width="113" height="122" fill="#c8c8c8"/>
<rect x="272" y="936" width="113" height="90" fill="#950000"/>
<rect x="272" y="1026" width="113" height="152" fill="url(#g5)"/>
<rect x="272" y="1178" width="113" height="152" fill="url(#g6)"/>
<rect x="272" y="1330" width="113" height="152" fill="url(#g7)"/>
<path d="M272 268H385V1482H272ZM272 418H385M272 570H385M272 722H385M272 875H385M272 1026H385M272 1178H385M272 1330H385" stroke="#111" stroke-width="1.3" fill="none"/>
<path fill="none" stroke="#000" stroke-width="1.5" d="M612 644H727V1482H612ZM800 644H915V1482H800ZM989 644H1104V1482H989ZM1178 644H1293V1482H1178ZM612 728H727M612 811H727M612 895H727M612 979H727M612 1063H727M612 1147H727M612 1231H727M612 1314H727M612 1398H727M800 728H915M800 811H915M800 895H915M800 979H915M800 1063H915M800 1147H915M800 1231H915M800 1314H915M800 1398H915M989 728H1104M989 811H1104M989 895H1104M989 979H1104M989 1063H1104M989 1147H1104M989 1231H1104M989 1314H1104M989 1398H1104M1178 728H1293M1178 811H1293M1178 895H1293M1178 979H1293M1178 1063H1293M1178 1147H1293M1178 1231H1293M1178 1314H1293M1178 1398H1293"/>
<g fill="#ff4000">
<rect x="595" y="1252" width="148" height="9"/><rect x="612" y="1252" width="112" height="33"/><rect x="595" y="1277" width="148" height="8"/>
<rect x="784" y="1236" width="148" height="8"/><rect x="973" y="1236" width="148" height="8"/><rect x="1162" y="1252" width="149" height="13"/>
</g>
</g>
<!-- legend text -->
<g font-size="24">
<text x="76" y="851.8" font-size="31.4">Velocity (m/s)</text>
<g text-anchor="end">
<text x="136" y="895.7">100</text><text x="136" y="949.3">75</text><text x="136" y="1003.6">50</text><text x="136" y="1057.9">25</text><text x="136" y="1112.5">0</text><text x="136" y="1166.4">-25</text><text x="136" y="1220.7">-50</text><text x="136" y="1275">-75</text><text x="136" y="1329.3">-100</text>
</g>
<text x="202.7" y="916">toward</text><text x="202.7" y="1328.6">away</text><text x="203.3" y="1091">10</text><text x="202.7" y="1154.6">-10</text>
<text x="300.7" y="984" font-size="32.7">Frequency</text>
<g text-anchor="middle" font-size="30"><text x="282.7" y="1016.8">cvw</text><text x="346" y="1016.8">cve</text><text x="409" y="1016.8">fhw</text><text x="472" y="1016.8">fhe</text></g>
<g text-anchor="end">
<text x="256" y="1042">18</text><text x="256" y="1072">17</text><text x="256" y="1102">16</text><text x="256" y="1132">15</text><text x="256" y="1162">14</text><text x="256" y="1192">13</text><text x="256" y="1222">12</text><text x="256" y="1252">11</text><text x="256" y="1282">10</text><text x="256" y="1311.4">9</text><text x="256" y="1341.4">8</text>
<text x="524.7" y="1042">18</text><text x="524.7" y="1072">17</text><text x="524.7" y="1102">16</text><text x="524.7" y="1132">15</text><text x="524.7" y="1162">14</text><text x="524.7" y="1192">13</text><text x="524.7" y="1222">12</text><text x="524.7" y="1252">11</text><text x="524.7" y="1282">10</text><text x="518.7" y="1311.4">9</text><text x="518.7" y="1341.4">8</text>
</g>
</g>
<!-- radar labels -->
<g font-size="32">
<text x="1002.5" y="1391.5">cvw</text><text x="1078" y="1391.5">cve</text>
<text x="1079" y="1421" style="fill:#f0f">b18</text>
<text x="1659" y="1396.5">fhw</text><text x="1730" y="1396.5">fhe</text>
<text x="1665" y="1424" style="fill:#f0f">b05</text>
</g>
</svg>
</body></html>
